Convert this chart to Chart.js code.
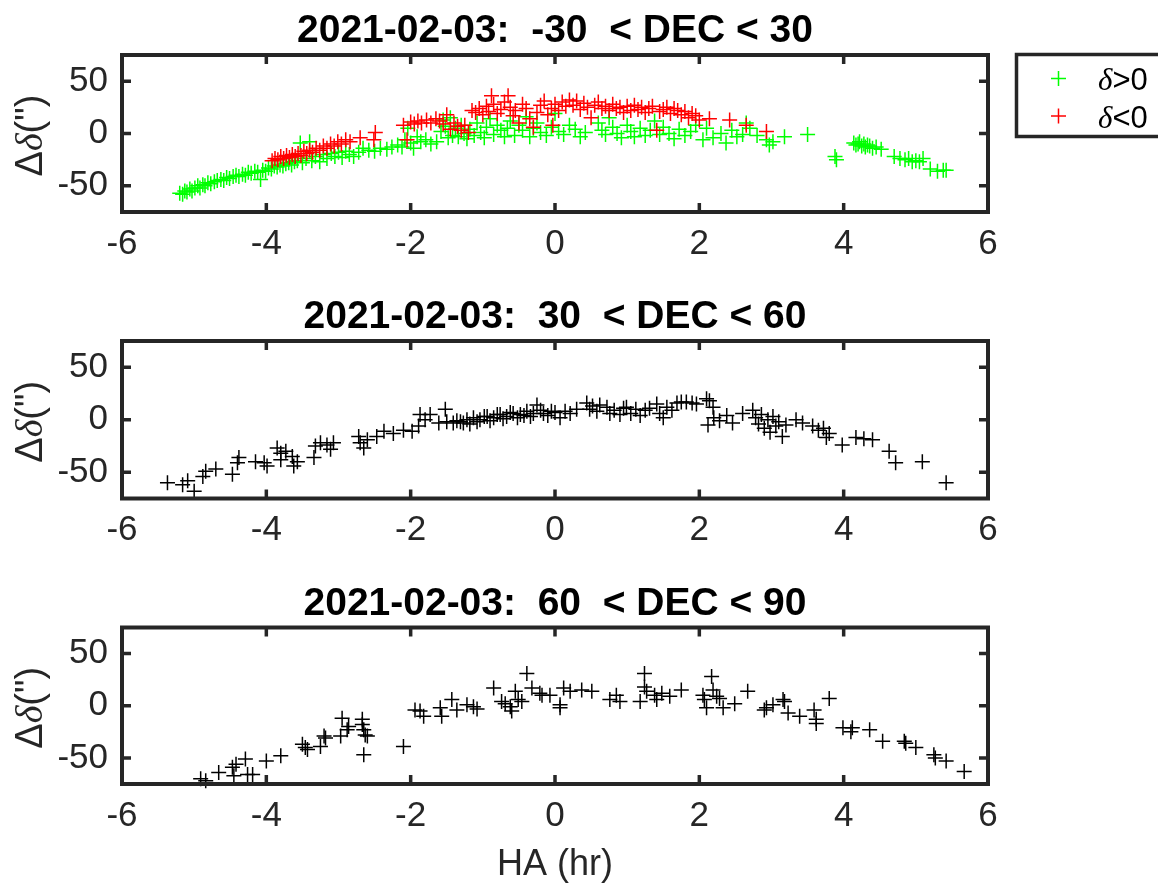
<!DOCTYPE html>
<html>
<head>
<meta charset="utf-8">
<script src="https://cdn.jsdelivr.net/npm/chart.js@4/dist/chart.umd.min.js"></script>
<style>
  html, body { margin: 0; padding: 0; background: #ffffff; }
  #figure { position: relative; width: 1158px; height: 884px; overflow: hidden; background: #ffffff; }
  #figure canvas { position: absolute; left: 0; }
</style>
</head>
<body>
<div id="figure">
  <canvas id="panel1" width="1158" height="285" style="top:0px"></canvas>
  <canvas id="panel2" width="1158" height="290" style="top:285px"></canvas>
  <canvas id="panel3" width="1158" height="309" style="top:575px"></canvas>
</div>
<script>
// ---- axis ticks and labels ----
const haTicks = [-6, -4, -2, 0, 2, 4, 6];
const ddecTicks = [-50, 0, 50];
const haRange = [-6, 6];
const ddecRange = [-75, 75];
const panelTitles = [
  '2021-02-03:  -30  < DEC < 30',
  '2021-02-03:  30  < DEC < 60',
  '2021-02-03:  60  < DEC < 90'
];
const xAxisLabel = 'HA (hr)';
const legendSigns = ['>0', '<0'];

// ---- [HA (hr), Δδ (arcsec)] ----
// -30 < DEC < 30, δ > 0
const lowDecNorth = [
  [-5.20,-57],[-5.16,-58],[-5.13,-55],[-5.10,-56],[-5.06,-53],[-5.03,-55],[-4.99,-52],[-4.95,-50],
  [-4.92,-52],[-4.88,-49],[-4.85,-50],[-4.81,-47],[-4.77,-48],[-4.72,-46],[-4.68,-45],[-4.63,-44],
  [-4.59,-45],[-4.55,-42],[-4.51,-43],[-4.46,-41],[-4.42,-40],[-4.38,-41],[-4.33,-39],[-4.29,-40],
  [-4.25,-37],[-4.21,-38],[-4.16,-36],[-4.12,-37],[-4.08,-44],[-4.05,-35],[-4.01,-36],[-3.97,-33],
  [-3.93,-34],[-3.89,-31],[-3.85,-32],[-3.81,-30],[-3.77,-31],[-3.73,-29],[-3.69,-28],[-3.65,-30],
  [-3.61,-27],[-3.57,-26],[-3.53,-9],[-3.50,-28],[-3.45,-24],[-3.40,-8],[-3.37,-26],[-3.32,-22],
  [-3.26,-27],[-3.21,-20],[-3.16,-24],[-3.10,-19],[-3.05,-22],[-3.00,-18],[-2.95,-23],[-2.90,-17],
  [-2.85,-20],[-2.79,-22],[-2.72,-18],[-2.66,-14],[-2.58,-16],[-2.50,-17],[-2.42,-14],[-2.33,-15],
  [-2.26,-13],[-2.18,-11],[-2.12,-13],[-2.08,-6],[-2.04,5],[-2.00,-9],[-1.96,-14],[-1.91,-3],
  [-1.86,-8],[-1.79,-6],[-1.72,-10],[-1.64,-8],[-1.58,2],[-1.55,13],[-1.52,7],[-1.48,-4],
  [-1.45,15],[-1.42,-2],[-1.38,5],[-1.34,-3],[-1.30,8],[-1.26,0],[-1.22,-5],[-1.18,4],
  [-1.12,-2],[-1.08,10],[-1.03,1],[-0.98,-4],[-0.95,6],[-0.90,14],[-0.85,-1],[-0.80,8],
  [-0.75,3],[-0.70,-3],[-0.66,5],[-0.62,12],[-0.56,-2],[-0.50,8],[-0.45,3],[-0.40,16],
  [-0.35,-3],[-0.30,5],[-0.25,10],[-0.20,1],[-0.12,-2],[-0.05,6],[0.00,19],[0.05,2],
  [0.12,-1],[0.20,8],[0.28,4],[0.35,-3],[0.42,1],[0.60,10],[0.65,3],[0.70,-1],
  [0.75,15],[0.80,6],[0.86,0],[0.92,-4],[1.00,8],[1.05,2],[1.10,-3],[1.18,5],
  [1.25,-2],[1.32,3],[1.38,12],[1.45,-1],[1.50,6],[1.58,0],[1.65,-5],[1.72,4],
  [1.80,-2],[1.88,2],[1.95,8],[2.05,-6],[2.10,5],[2.19,-4],[2.30,0],[2.37,-9],
  [2.45,3],[2.52,-3],[2.60,-1],[2.65,10],[2.70,5],[2.80,-2],[2.93,-6],[2.97,-11],
  [3.02,-8],[3.18,-3],[3.50,-1],[3.88,-22],[3.90,-25],[4.14,-9],[4.17,-11],[4.20,-10],
  [4.22,-8],[4.25,-12],[4.28,-10],[4.30,-13],[4.33,-11],[4.36,-12],[4.40,-14],[4.45,-13],
  [4.52,-15],[4.70,-22],[4.78,-24],[4.85,-25],[4.90,-24],[4.95,-27],[5.00,-26],[5.05,-27],
  [5.10,-24],[5.20,-34],[5.30,-36],[5.38,-35],[5.42,-35]
];
// -30 < DEC < 30, δ < 0
const lowDecSouth = [
  [-3.92,-26],[-3.88,-24],[-3.84,-25],[-3.80,-22],[-3.76,-24],[-3.72,-21],[-3.68,-23],[-3.64,-20],
  [-3.60,-22],[-3.56,-19],[-3.52,-21],[-3.48,-17],[-3.44,-19],[-3.40,-16],[-3.36,-18],[-3.31,-14],
  [-3.26,-16],[-3.21,-12],[-3.16,-14],[-3.11,-10],[-3.06,-12],[-3.01,-8],[-2.96,-10],[-2.90,-6],
  [-2.84,-8],[-2.70,-4],[-2.51,-6],[-2.49,1],[-2.10,8],[-2.05,-6],[-2.00,11],[-1.95,9],
  [-1.90,12],[-1.85,10],[-1.78,13],[-1.72,10],[-1.65,14],[-1.60,12],[-1.55,9],[-1.50,18],
  [-1.45,4],[-1.40,10],[-1.35,7],[-1.30,3],[-1.25,8],[-1.20,1],[-1.15,22],[-1.10,20],
  [-1.05,24],[-1.00,18],[-0.95,26],[-0.92,21],[-0.88,36],[-0.85,28],[-0.80,19],[-0.75,23],
  [-0.70,30],[-0.65,36],[-0.62,25],[-0.58,17],[-0.55,22],[-0.50,10],[-0.45,28],[-0.40,24],
  [-0.35,14],[-0.30,6],[-0.25,20],[-0.20,27],[-0.15,31],[-0.10,18],[-0.05,24],[-0.03,8],
  [0.00,28],[0.05,22],[0.10,30],[0.15,26],[0.20,32],[0.25,27],[0.30,31],[0.35,23],
  [0.40,29],[0.45,25],[0.50,15],[0.55,27],[0.60,30],[0.65,24],[0.70,26],[0.75,22],
  [0.80,28],[0.85,24],[0.90,25],[0.95,20],[1.00,26],[1.05,22],[1.10,27],[1.15,23],
  [1.20,25],[1.25,20],[1.30,24],[1.35,26],[1.41,3],[1.45,21],[1.50,23],[1.55,25],
  [1.60,19],[1.65,24],[1.70,22],[1.75,18],[1.80,21],[1.85,15],[1.90,19],[1.95,17],
  [2.00,13],[2.14,14],[2.42,13],[2.65,8],[2.93,2]
];
// 30 < DEC < 60
const midDec = [
  [-5.37,-60],[-5.16,-62],[-5.09,-58],[-5.00,-68],[-4.88,-54],[-4.84,-49],[-4.70,-47],[-4.47,-52],
  [-4.40,-41],[-4.38,-36],[-4.15,-40],[-4.03,-41],[-3.99,-44],[-3.85,-27],[-3.80,-32],[-3.73,-30],
  [-3.80,-38],[-3.64,-35],[-3.62,-44],[-3.57,-40],[-3.34,-36],[-3.32,-25],[-3.25,-22],[-3.16,-24],
  [-3.11,-28],[-3.07,-22],[-2.72,-16],[-2.70,-22],[-2.65,-27],[-2.60,-19],[-2.47,-16],[-2.37,-11],
  [-2.24,-13],[-2.10,-10],[-1.98,-11],[-1.89,-6],[-1.87,5],[-1.80,0],[-1.73,5],[-1.61,-3],
  [-1.52,10],[-1.50,-2],[-1.41,-3],[-1.36,-1],[-1.31,-2],[-1.27,-3],[-1.22,0],[-1.18,-4],
  [-1.13,2],[-1.08,-2],[-1.04,0],[-0.98,3],[-0.94,3],[-0.90,-1],[-0.85,2],[-0.80,5],
  [-0.76,5],[-0.72,1],[-0.67,3],[-0.62,7],[-0.58,6],[-0.52,2],[-0.48,5],[-0.43,4],
  [-0.39,8],[-0.34,3],[-0.30,6],[-0.25,14],[-0.20,9],[-0.16,6],[-0.10,4],[-0.05,8],
  [0.00,7],[0.07,2],[0.14,8],[0.21,6],[0.30,10],[0.44,16],[0.48,10],[0.52,13],
  [0.58,8],[0.62,14],[0.72,12],[0.76,6],[0.82,9],[0.90,5],[0.95,11],[0.99,12],
  [1.05,6],[1.12,10],[1.18,4],[1.25,9],[1.31,11],[1.41,15],[1.45,6],[1.50,2],
  [1.55,12],[1.62,9],[1.69,16],[1.75,17],[1.82,17],[1.90,16],[1.96,15],[2.10,20],
  [2.14,18],[2.19,12],[2.12,-5],[2.20,2],[2.28,-1],[2.38,4],[2.46,-3],[2.60,6],
  [2.74,9],[2.78,2],[2.82,-4],[2.86,5],[2.90,-8],[2.95,0],[2.98,-12],[3.02,3],
  [3.06,-6],[3.10,-2],[3.15,-16],[3.20,-5],[3.34,0],[3.43,-3],[3.57,-6],[3.65,-10],
  [3.72,-8],[3.76,-17],[3.80,-13],[3.98,-24],[4.17,-17],[4.28,-18],[4.40,-19],[4.63,-30],
  [4.72,-41],[5.09,-40],[5.42,-60]
];
// 60 < DEC < 90
const highDec = [
  [-4.91,-70],[-4.84,-72],[-4.66,-64],[-4.47,-59],[-4.45,-67],[-4.42,-56],[-4.29,-51],[-4.26,-66],
  [-4.19,-66],[-4.00,-53],[-3.80,-48],[-3.50,-37],[-3.46,-40],[-3.43,-42],[-3.25,-39],[-3.20,-29],
  [-3.18,-31],[-2.97,-29],[-2.95,-12],[-2.88,-23],[-2.86,-20],[-2.67,-13],[-2.67,-18],[-2.65,-23],
  [-2.63,-28],[-2.60,-29],[-2.65,-47],[-2.10,-39],[-1.94,-4],[-1.87,-5],[-1.82,-10],[-1.59,-2],
  [-1.57,-10],[-1.43,6],[-1.36,-4],[-1.22,1],[-1.13,-1],[-1.08,-3],[-0.85,17],[-0.74,4],
  [-0.69,2],[-0.62,-1],[-0.60,-5],[-0.55,14],[-0.51,6],[-0.46,4],[-0.39,31],[-0.32,17],
  [-0.21,12],[-0.18,10],[-0.07,10],[0.07,1],[0.07,-2],[0.12,17],[0.21,14],[0.37,15],
  [0.51,14],[0.76,6],[0.85,10],[0.90,4],[1.18,4],[1.24,31],[1.24,18],[1.27,14],
  [1.38,10],[1.41,6],[1.48,12],[1.59,9],[1.75,15],[2.05,10],[2.07,6],[2.10,-2],
  [2.17,28],[2.19,15],[2.24,9],[2.28,7],[2.33,-2],[2.49,2],[2.67,14],[2.90,-4],
  [2.93,-2],[3.02,1],[3.16,6],[3.18,4],[3.23,-7],[3.39,-10],[3.59,-4],[3.62,-13],
  [3.62,-17],[3.80,7],[3.99,-21],[4.10,-25],[4.12,-21],[4.36,-23],[4.54,-34],[4.84,-34],
  [4.86,-36],[5.00,-40],[5.25,-47],[5.27,-50],[5.42,-53],[5.67,-63]
];

// ---- styling ----
const AXIS_COLOR = '#262626';
const SANS = '"Liberation Sans", Helvetica, Arial, sans-serif';
const SERIF = '"Liberation Serif", "DejaVu Serif", serif';
const PLOT_LEFT = 122;
const PLOT_RIGHT = 988;
const FIG_WIDTH = 1158;
const TICK_LEN = 9;
const MARK_RADIUS = 7.5;
const TICK_FONT = 35;

function toPoints(pairs) {
  return pairs.map(([x, y]) => ({ x, y }));
}

function crossSet(label, pairs, color, order) {
  return {
    label,
    data: toPoints(pairs),
    order,
    showLine: false,
    clip: false,
    borderColor: color,
    backgroundColor: color,
    pointStyle: 'cross',
    pointRadius: MARK_RADIUS,
    pointHoverRadius: MARK_RADIUS,
    pointBorderColor: color,
    pointBorderWidth: 1.5,
    pointBackgroundColor: color
  };
}

// Draws text pieces side by side, each with its own font.
function drawRuns(ctx, runs, x, y, align) {
  let total = 0;
  runs.forEach(r => { ctx.font = r.font; r.w = ctx.measureText(r.text).width; total += r.w; });
  let cx = align === 'center' ? x - total / 2 : x;
  runs.forEach(r => { ctx.font = r.font; ctx.fillText(r.text, cx, y); cx += r.w; });
}

function crossMark(ctx, x, y, color) {
  ctx.save();
  ctx.strokeStyle = color;
  ctx.lineWidth = 1.5;
  ctx.beginPath();
  ctx.moveTo(x - MARK_RADIUS, y); ctx.lineTo(x + MARK_RADIUS, y);
  ctx.moveTo(x, y - MARK_RADIUS); ctx.lineTo(x, y + MARK_RADIUS);
  ctx.stroke();
  ctx.restore();
}

// Box, inward ticks, title, axis labels and legend in MATLAB style.
const matlabFrame = {
  id: 'matlabFrame',
  afterDraw(chart, args, opts) {
    const { ctx, chartArea: a, scales: { x, y } } = chart;
    ctx.save();
    ctx.strokeStyle = AXIS_COLOR;
    ctx.lineCap = 'butt';
    ctx.lineWidth = 3.5;
    ctx.beginPath();
    x.ticks.forEach(t => {
      const p = x.getPixelForValue(t.value);
      ctx.moveTo(p, a.bottom); ctx.lineTo(p, a.bottom - TICK_LEN);
      ctx.moveTo(p, a.top); ctx.lineTo(p, a.top + TICK_LEN);
    });
    y.ticks.forEach(t => {
      const p = y.getPixelForValue(t.value);
      ctx.moveTo(a.left, p); ctx.lineTo(a.left + TICK_LEN, p);
      ctx.moveTo(a.right, p); ctx.lineTo(a.right - TICK_LEN, p);
    });
    ctx.stroke();
    ctx.lineWidth = 4;
    ctx.strokeRect(a.left, a.top, a.right - a.left, a.bottom - a.top);

    // title
    ctx.fillStyle = '#000000';
    ctx.textBaseline = 'alphabetic';
    ctx.textAlign = 'left';
    drawRuns(ctx, [{ text: opts.title, font: 'bold 39px ' + SANS }], (a.left + a.right) / 2, a.top - 13, 'center');

    // y label: Δδ(")
    ctx.fillStyle = AXIS_COLOR;
    ctx.save();
    ctx.translate(42, (a.top + a.bottom) / 2 + 2);
    ctx.rotate(-Math.PI / 2);
    drawRuns(ctx, [
      { text: '\u0394', font: '38px ' + SANS },
      { text: '\u03B4', font: 'italic 38px ' + SERIF },
      { text: '(")', font: '38px ' + SANS }
    ], 0, 0, 'center');
    ctx.restore();

    if (opts.xLabel) {
      drawRuns(ctx, [{ text: opts.xLabel, font: '36px ' + SANS }], (a.left + a.right) / 2, a.bottom + 91, 'center');
    }

    if (opts.legend) {
      const bx = 1016.5, by = 54.5, bw = 160, bh = 82;
      ctx.fillStyle = '#ffffff';
      ctx.fillRect(bx, by, bw, bh);
      ctx.strokeStyle = AXIS_COLOR;
      ctx.lineWidth = 3.5;
      ctx.strokeRect(bx, by, bw, bh);
      opts.legend.forEach((item, i) => {
        const cy = 78.5 + i * 37.5;
        crossMark(ctx, 1058.5, cy, item.color);
        ctx.fillStyle = '#000000';
        drawRuns(ctx, [
          { text: '\u03B4', font: 'italic 31px ' + SERIF },
          { text: item.sign, font: '31px ' + SANS }
        ], 1098, cy + 11.5, 'left');
      });
    }
    ctx.restore();
  }
};

function makePanel(canvasId, titleText, datasets, plotTop, xAxisHeight, extra) {
  return new Chart(document.getElementById(canvasId), {
    type: 'scatter',
    data: { datasets },
    options: {
      responsive: false,
      animation: false,
      devicePixelRatio: 1,
      events: [],
      layout: { padding: { left: 0, right: FIG_WIDTH - PLOT_RIGHT, top: plotTop, bottom: 0 } },
      plugins: {
        legend: { display: false },
        tooltip: { enabled: false },
        title: { display: false },
        matlabFrame: Object.assign({ title: titleText }, extra)
      },
      scales: {
        x: {
          type: 'linear',
          position: 'bottom',
          min: haRange[0],
          max: haRange[1],
          grid: { display: false, drawTicks: false },
          border: { display: false },
          afterBuildTicks: s => { s.ticks = haTicks.map(v => ({ value: v })); },
          afterFit: s => { s.height = xAxisHeight; },
          ticks: {
            autoSkip: false,
            maxRotation: 0,
            padding: 11,
            color: AXIS_COLOR,
            font: { family: SANS, size: TICK_FONT },
            callback: v => String(v)
          }
        },
        y: {
          type: 'linear',
          position: 'left',
          min: ddecRange[0],
          max: ddecRange[1],
          grid: { display: false, drawTicks: false },
          border: { display: false },
          afterBuildTicks: s => { s.ticks = ddecTicks.map(v => ({ value: v })); },
          afterFit: s => { s.width = PLOT_LEFT; },
          ticks: {
            padding: 14,
            color: AXIS_COLOR,
            font: { family: SANS, size: TICK_FONT },
            callback: v => String(v)
          }
        }
      }
    },
    plugins: [matlabFrame]
  });
}

makePanel('panel1', panelTitles[0], [
  crossSet('\u03B4' + legendSigns[1], lowDecSouth, '#ff0000', 0),
  crossSet('\u03B4' + legendSigns[0], lowDecNorth, '#00ff00', 1)
], 55, 73, {
  legend: [
    { sign: legendSigns[0], color: '#00ff00' },
    { sign: legendSigns[1], color: '#ff0000' }
  ]
});

makePanel('panel2', panelTitles[1], [
  crossSet('30 < DEC < 60', midDec, '#000000', 0)
], 56, 76.5, {});

makePanel('panel3', panelTitles[2], [
  crossSet('60 < DEC < 90', highDec, '#000000', 0)
], 52.5, 100, { xLabel: xAxisLabel });
</script>
</body>
</html>
